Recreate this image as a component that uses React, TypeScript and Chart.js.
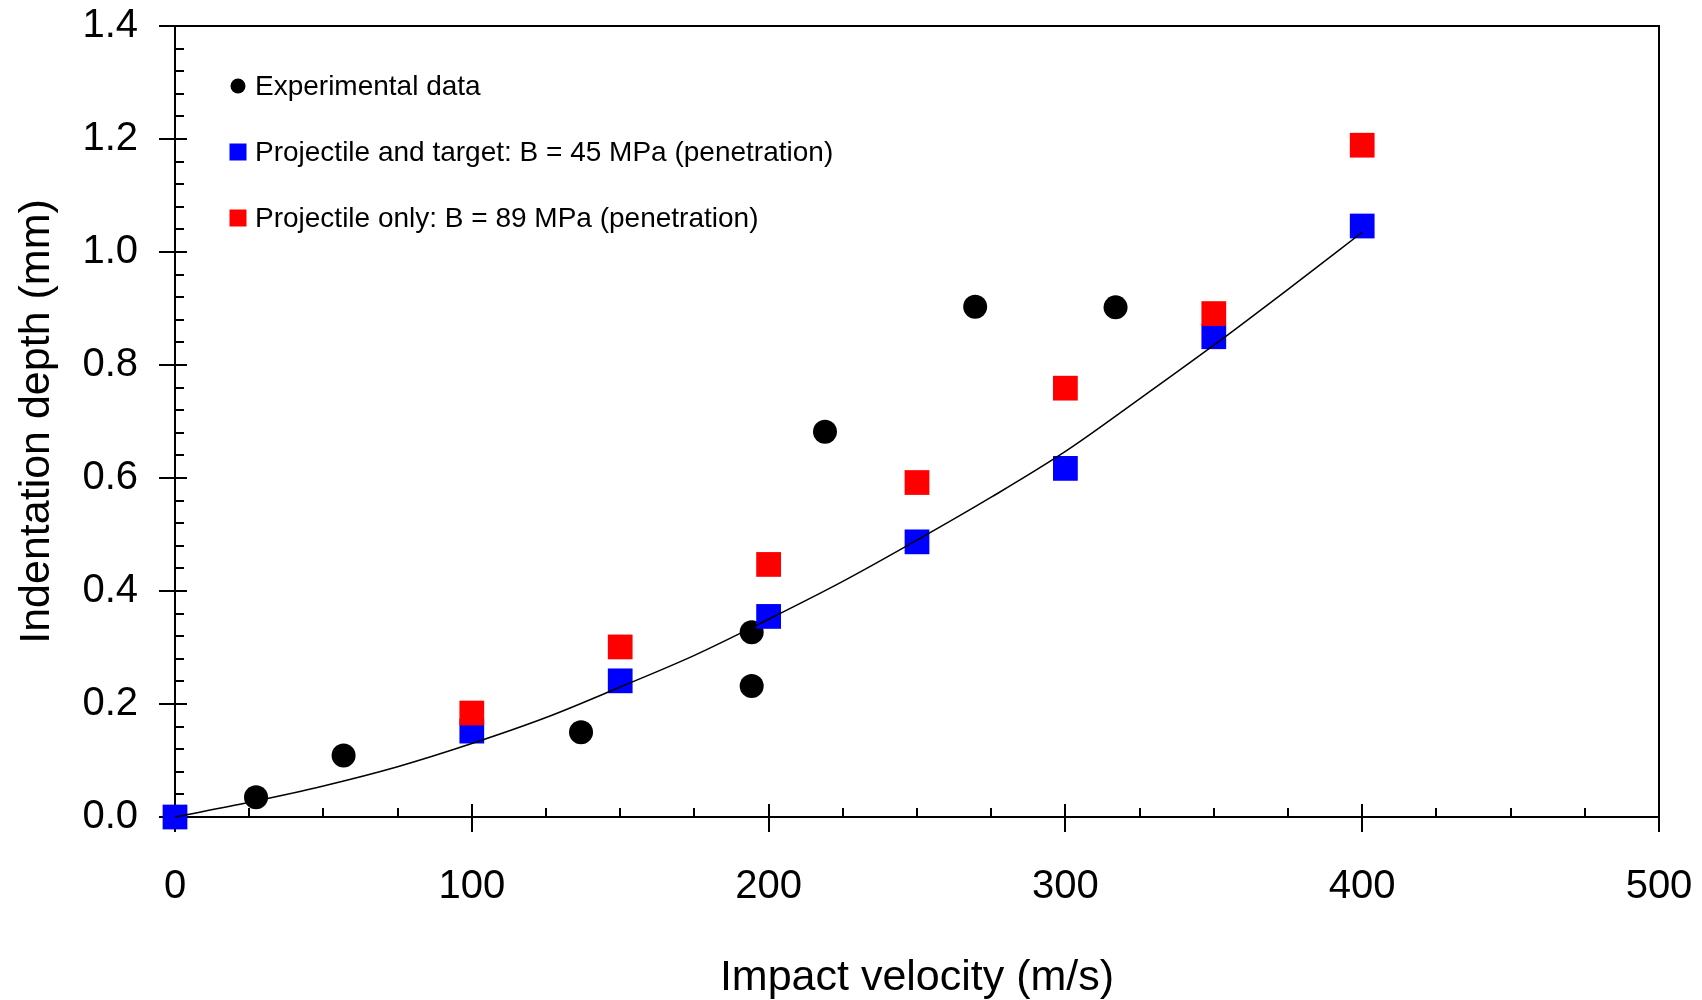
import React, { useEffect, useRef } from "react";
import { Chart, registerables } from "chart.js";

Chart.register(...registerables);

// ---- Data ----
const fitVelocity = [0, 25, 50, 75, 100, 125, 150, 175, 200, 225, 250, 275, 300, 325, 350, 375, 400];
const fitDepth = [0, 0.026, 0.055, 0.089, 0.13, 0.176, 0.23, 0.286, 0.35, 0.417, 0.49, 0.566, 0.647, 0.74, 0.835, 0.934, 1.035];

const expVelocity = [27.3, 56.8, 136.8, 194.3, 194.3, 219, 269.6, 316.9];
const expDepth = [0.035, 0.109, 0.15, 0.327, 0.232, 0.682, 0.903, 0.902];

const ptVelocity = [0, 100, 150, 200, 250, 300, 350, 400];
const ptDepth = [0, 0.152, 0.241, 0.355, 0.487, 0.617, 0.85, 1.046];

const poVelocity = [100, 150, 200, 250, 300, 350, 400];
const poDepth = [0.184, 0.301, 0.447, 0.592, 0.759, 0.891, 1.189];

const xTickValues = [0, 100, 200, 300, 400, 500];
const yTickValues = [0, 0.2, 0.4, 0.6, 0.8, 1.0, 1.2, 1.4];

const legendLabels = [
  "Experimental data",
  "Projectile and target: B = 45 MPa (penetration)",
  "Projectile only: B = 89 MPa (penetration)",
];
const xTitle = "Impact velocity (m/s)";
const yTitle = "Indentation depth (mm)";

const FONT = '"Liberation Sans", Arial, Helvetica, sans-serif';

const toPoints = (xs: number[], ys: number[]) => xs.map((x, i) => ({ x, y: ys[i] }));

const framePlugin = {
  id: "frameTicks",
  beforeDatasetsDraw(chart: any) {
    const { ctx, chartArea } = chart;
    const xs = chart.scales.x;
    const ys = chart.scales.y;
    ctx.save();
    ctx.strokeStyle = "#000";
    ctx.lineWidth = 2;
    ctx.strokeRect(chartArea.left, chartArea.top, chartArea.right - chartArea.left, chartArea.bottom - chartArea.top);
    ctx.beginPath();
    // x ticks
    for (let v = 0; v <= 500; v += 25) {
      const px = Math.round(xs.getPixelForValue(v));
      const major = v % 100 === 0;
      if (major) {
        ctx.moveTo(px, chartArea.bottom + 15);
        ctx.lineTo(px, chartArea.bottom - 13);
      } else {
        ctx.moveTo(px, chartArea.bottom);
        ctx.lineTo(px, chartArea.bottom - 9);
      }
    }
    // y ticks
    for (let i = 0; i <= 35; i++) {
      const v = i * 0.04;
      const py = Math.round(ys.getPixelForValue(v));
      const major = i % 5 === 0;
      if (major) {
        ctx.moveTo(chartArea.left - 16, py);
        ctx.lineTo(chartArea.left + 12, py);
      } else {
        ctx.moveTo(chartArea.left, py);
        ctx.lineTo(chartArea.left + 9, py);
      }
    }
    ctx.stroke();
    ctx.restore();
  },
};

const legendPlugin = {
  id: "customLegend",
  afterDraw(chart: any) {
    const { ctx, chartArea } = chart;
    const mx = chartArea.left + 63;
    const tx = chartArea.left + 80;
    const y0 = chartArea.top + 60;
    const dy = 66;
    ctx.save();
    ctx.fillStyle = "#000";
    ctx.beginPath();
    ctx.arc(mx, y0, 7.5, 0, Math.PI * 2);
    ctx.fill();
    ctx.fillStyle = "#0000ff";
    ctx.fillRect(mx - 8.5, y0 + dy - 8.5, 17, 17);
    ctx.fillStyle = "#ff0000";
    ctx.fillRect(mx - 8.5, y0 + 2 * dy - 8.5, 17, 17);
    ctx.fillStyle = "#000";
    ctx.font = `28px ${FONT}`;
    ctx.textAlign = "left";
    ctx.textBaseline = "middle";
    legendLabels.forEach((t, i) => ctx.fillText(t, tx, y0 + i * dy + 1));
    ctx.restore();
  },
};

export default function App() {
  const canvasRef = useRef<HTMLCanvasElement | null>(null);

  useEffect(() => {
    if (!canvasRef.current) return;
    const chart = new Chart(canvasRef.current, {
      type: "scatter",
      data: {
        datasets: [
          {
            type: "line",
            label: "Fit",
            data: toPoints(fitVelocity, fitDepth),
            showLine: true,
            borderColor: "#000",
            borderWidth: 1.5,
            pointRadius: 0,
            fill: false,
            cubicInterpolationMode: "monotone",
            clip: false,
          } as any,
          {
            label: legendLabels[2],
            data: toPoints(poVelocity, poDepth),
            pointStyle: "rect",
            pointRadius: 17.5,
            pointBackgroundColor: "#ff0000",
            pointBorderColor: "#ff0000",
            pointBorderWidth: 0,
            clip: false,
          } as any,
          {
            label: legendLabels[1],
            data: toPoints(ptVelocity, ptDepth),
            pointStyle: "rect",
            pointRadius: 17.5,
            pointBackgroundColor: "#0000ff",
            pointBorderColor: "#0000ff",
            pointBorderWidth: 0,
            clip: false,
          } as any,
          {
            label: legendLabels[0],
            data: toPoints(expVelocity, expDepth),
            pointStyle: "circle",
            pointRadius: 12,
            pointBackgroundColor: "#000",
            pointBorderColor: "#000",
            pointBorderWidth: 0,
            clip: false,
          } as any,
        ],
      },
      options: {
        animation: false,
        responsive: false,
        devicePixelRatio: 1,
        layout: { padding: { left: 0, right: 43, top: 26, bottom: 0 } },
        plugins: {
          legend: { display: false },
          tooltip: { enabled: false },
        },
        scales: {
          x: {
            type: "linear",
            min: 0,
            max: 500,
            grid: { display: false, drawTicks: false },
            border: { display: false },
            afterBuildTicks: (s: any) => {
              s.ticks = xTickValues.map((v) => ({ value: v }));
            },
            afterFit: (s: any) => {
              s.height = 183;
              s.paddingLeft = 0;
              s.paddingRight = 0;
              s.paddingTop = 0;
              s.paddingBottom = 0;
            },
            ticks: {
              color: "#000",
              font: { family: FONT, size: 40 },
              padding: 46,
              maxRotation: 0,
              callback: (v: any) => String(v),
            },
            title: {
              display: true,
              text: xTitle,
              color: "#000",
              font: { family: FONT, size: 43 },
              padding: { top: 0, bottom: -4 },
            },
          },
          y: {
            type: "linear",
            min: 0,
            max: 1.4,
            grid: { display: false, drawTicks: false },
            border: { display: false },
            afterBuildTicks: (s: any) => {
              s.ticks = yTickValues.map((v) => ({ value: v }));
            },
            afterFit: (s: any) => {
              s.width = 175;
              s.paddingLeft = 0;
              s.paddingRight = 0;
              s.paddingTop = 0;
              s.paddingBottom = 0;
            },
            ticks: {
              color: "#000",
              font: { family: FONT, size: 40 },
              padding: 37,
              callback: (v: any) => Number(v).toFixed(1),
            },
            title: {
              display: true,
              text: yTitle,
              color: "#000",
              font: { family: FONT, size: 43 },
              padding: { top: 11, bottom: 0 },
            },
          },
        },
      },
      plugins: [framePlugin, legendPlugin],
    });
    return () => chart.destroy();
  }, []);

  return (
    <div style={{ position: "absolute", left: 0, top: 0, width: 1702, height: 1000, background: "#fff" }}>
      <canvas ref={canvasRef} width={1702} height={1000} style={{ width: 1702, height: 1000 }} />
    </div>
  );
}
